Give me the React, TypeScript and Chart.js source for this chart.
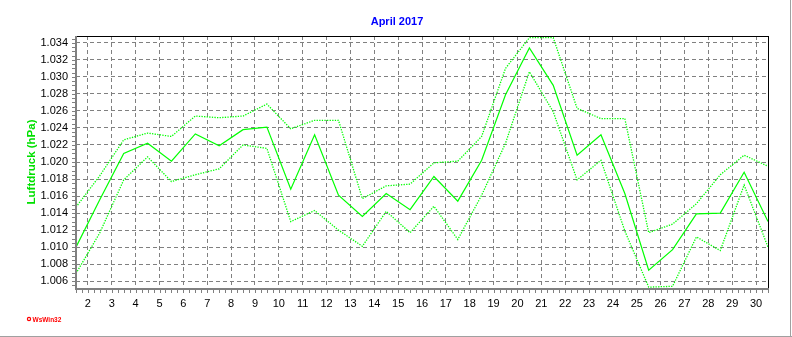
import { useEffect, useRef } from 'react';
import { Chart, registerables } from 'chart.js';

Chart.register(...registerables);

// ---- data ----
const days = [
  1.5, 2.5, 3.5, 4.5, 5.5, 6.5, 7.5, 8.5, 9.5, 10.5,
  11.5, 12.5, 13.5, 14.5, 15.5, 16.5, 17.5, 18.5, 19.5, 20.5,
  21.5, 22.5, 23.5, 24.5, 25.5, 26.5, 27.5, 28.5, 29.5, 30.5,
];
const meanValues = [
  1.0100, 1.0156, 1.0210, 1.0222, 1.0201, 1.0233, 1.0219, 1.0238, 1.0241, 1.0168,
  1.0232, 1.0161, 1.0136, 1.0163, 1.0144, 1.0183, 1.0154, 1.0202, 1.0279, 1.0334,
  1.0290, 1.0208, 1.0232, 1.0163, 1.0073, 1.0097, 1.0139, 1.0140, 1.0188, 1.0130,
];
const maxValues = [
  1.0147, 1.0184, 1.0226, 1.0234, 1.0230, 1.0254, 1.0252, 1.0254, 1.0268, 1.0239,
  1.0249, 1.0249, 1.0157, 1.0172, 1.0174, 1.0199, 1.0201, 1.0230, 1.0310, 1.0346,
  1.0346, 1.0263, 1.0251, 1.0251, 1.0117, 1.0127, 1.0151, 1.0185, 1.0208, 1.0195,
];
const minValues = [
  1.0069, 1.0117, 1.0179, 1.0206, 1.0177, 1.0185, 1.0192, 1.0220, 1.0216, 1.0130,
  1.0143, 1.0120, 1.0101, 1.0142, 1.0117, 1.0148, 1.0109, 1.0161, 1.0222, 1.0306,
  1.0259, 1.0179, 1.0202, 1.0119, 1.0053, 1.0054, 1.0112, 1.0096, 1.0173, 1.0100,
];
const xTickDays = [
  2, 3, 4, 5, 6, 7, 8, 9, 10, 11, 12, 13, 14, 15, 16,
  17, 18, 19, 20, 21, 22, 23, 24, 25, 26, 27, 28, 29, 30,
];
const yTickValues = [
  1.006, 1.008, 1.010, 1.012, 1.014, 1.016, 1.018, 1.020,
  1.022, 1.024, 1.026, 1.028, 1.030, 1.032, 1.034,
];
const chartTitle = 'April 2017';
const yAxisTitle = 'Luftdruck (hPa)';
const footerText = 'WsWin32';

const FONT = '"Liberation Sans", Arial, sans-serif';
const GREEN = '#00ff00';

const framePlugin = {
  id: 'wswinFrame',
  afterDraw(chart: any) {
    const ctx = chart.ctx as CanvasRenderingContext2D;
    const { left, top, right, bottom } = chart.chartArea;
    const xs = chart.scales.x;
    const ys = chart.scales.y;
    ctx.save();

    // minor ticks on x axis
    ctx.fillStyle = '#808080';
    for (let k = 0; k <= 116; k++) {
      const v = xs.min + k * 0.25;
      if (v > xs.max + 1e-9) break;
      const px = Math.round(xs.getPixelForValue(v));
      ctx.fillRect(px, bottom + 2, 1, 3);
    }
    // minor ticks on y axis
    const kStart = Math.ceil(ys.min / 0.0005 - 1e-6);
    const kEnd = Math.floor(ys.max / 0.0005 + 1e-6);
    for (let k = kStart; k <= kEnd; k++) {
      const py = Math.round(ys.getPixelForValue(k * 0.0005));
      ctx.fillRect(left - 4, py, 3, 1);
    }

    // axes
    ctx.fillStyle = '#808080';
    ctx.fillRect(left - 1, top, 2, bottom - top + 2);
    ctx.fillRect(left - 1, bottom, right - left + 2, 2);
    ctx.fillStyle = '#000000';
    ctx.fillRect(left + 1, top, right - left, 1);
    ctx.fillRect(right, top, 1, bottom - top);

    // title
    ctx.fillStyle = '#0000ff';
    ctx.font = `bold 11px ${FONT}`;
    ctx.textAlign = 'center';
    ctx.textBaseline = 'alphabetic';
    ctx.fillText(chartTitle, 397, 25);

    // y axis title
    ctx.save();
    ctx.translate(31.5, 162);
    ctx.rotate(-Math.PI / 2);
    ctx.fillStyle = '#00e000';
    ctx.font = `bold 11.5px ${FONT}`;
    ctx.textAlign = 'center';
    ctx.textBaseline = 'middle';
    ctx.fillText(yAxisTitle, 0, 0);
    ctx.restore();

    // footer
    ctx.strokeStyle = '#ff0000';
    ctx.lineWidth = 1.2;
    ctx.beginPath();
    ctx.arc(29, 319, 1.6, 0, Math.PI * 2);
    ctx.stroke();
    ctx.fillStyle = '#ff0000';
    ctx.font = `bold 6.5px ${FONT}`;
    ctx.textAlign = 'left';
    ctx.textBaseline = 'alphabetic';
    ctx.fillText(footerText, 32.5, 321.5);

    // outer frame
    ctx.fillStyle = '#a0a0a0';
    ctx.fillRect(790, 0, 1, 337);
    ctx.fillRect(0, 336, 792, 1);

    ctx.restore();
  },
};

export default function App() {
  const canvasRef = useRef<HTMLCanvasElement | null>(null);

  useEffect(() => {
    document.body.style.margin = '0';
    const canvas = canvasRef.current;
    if (!canvas) return;

    const toPoints = (vals: number[]) => days.map((d, i) => ({ x: d, y: vals[i] }));

    const chart = new Chart(canvas, {
      type: 'line',
      data: {
        datasets: [
          {
            label: 'Maximum',
            data: toPoints(maxValues),
            borderColor: GREEN,
            borderWidth: 1.3,
            borderDash: [1.3, 1.3],
            pointRadius: 0,
            fill: false,
            tension: 0,
          },
          {
            label: 'Mittel',
            data: toPoints(meanValues),
            borderColor: GREEN,
            borderWidth: 1.2,
            pointRadius: 0,
            fill: false,
            tension: 0,
          },
          {
            label: 'Minimum',
            data: toPoints(minValues),
            borderColor: GREEN,
            borderWidth: 1.3,
            borderDash: [1.3, 1.3],
            pointRadius: 0,
            fill: false,
            tension: 0,
          },
        ],
      },
      options: {
        responsive: false,
        maintainAspectRatio: false,
        animation: false,
        layout: { padding: { top: 36, right: 24, left: 0, bottom: 0 } },
        plugins: {
          legend: { display: false },
          tooltip: { enabled: false },
          title: { display: false },
        },
        scales: {
          x: {
            type: 'linear',
            min: 1.5,
            max: 30.5,
            afterBuildTicks: (s: any) => {
              s.ticks = xTickDays.map((v) => ({ value: v }));
            },
            afterFit: (s: any) => {
              s.height = 49;
            },
            grid: { color: '#808080', lineWidth: 1, drawTicks: false },
            border: { display: false, dash: [4, 3] },
            ticks: {
              padding: 9,
              color: '#000000',
              font: { family: FONT, size: 11 },
              autoSkip: false,
              maxRotation: 0,
              callback: (v: any) => String(v),
            },
          },
          y: {
            type: 'linear',
            min: 1.0052,
            max: 1.0348,
            afterBuildTicks: (s: any) => {
              s.ticks = yTickValues.map((v) => ({ value: v }));
            },
            afterFit: (s: any) => {
              s.width = 76;
            },
            grid: { color: '#808080', lineWidth: 1, drawTicks: false },
            border: { display: false, dash: [4, 3] },
            ticks: {
              padding: 8,
              color: '#000000',
              font: { family: FONT, size: 11 },
              autoSkip: false,
              callback: (v: any) => Number(v).toFixed(3),
            },
          },
        },
      },
      plugins: [framePlugin],
    } as any);

    return () => chart.destroy();
  }, []);

  return (
    <div style={{ width: 792, height: 337, background: '#ffffff' }}>
      <canvas ref={canvasRef} width={792} height={337} style={{ display: 'block' }} />
    </div>
  );
}
